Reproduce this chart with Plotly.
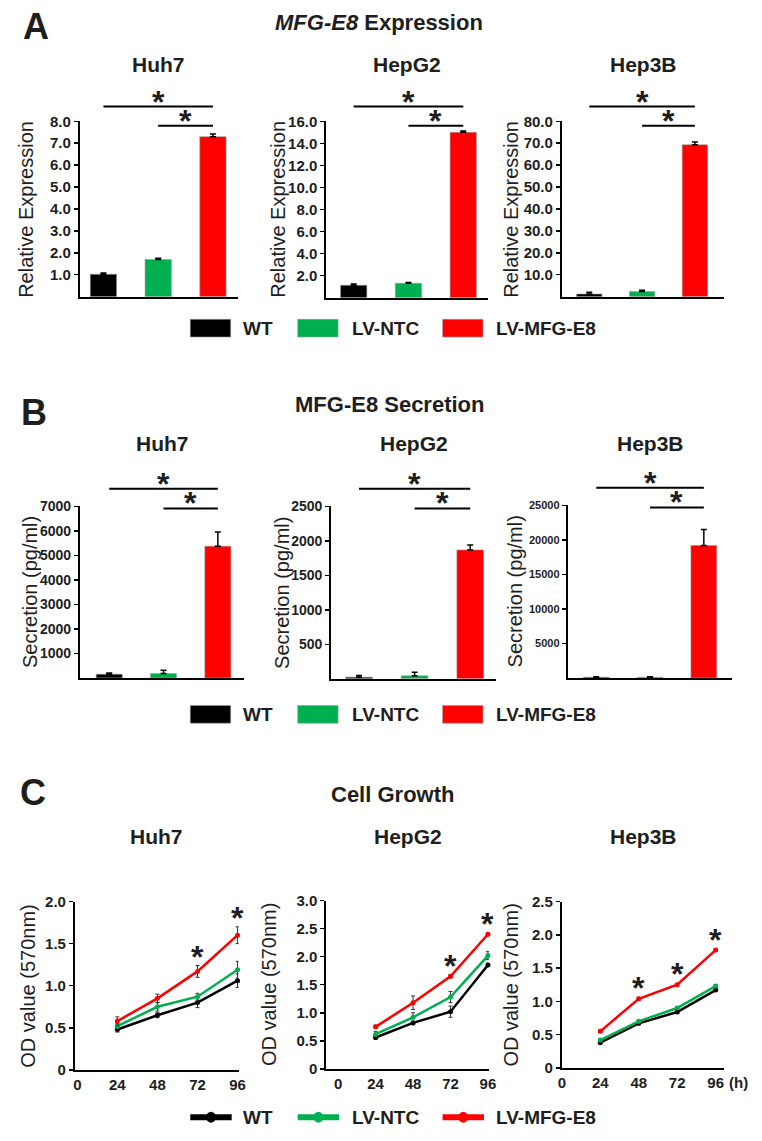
import plotly.graph_objects as go

W, H = 762, 1141
FONT = "Liberation Sans, Arial, Helvetica, sans-serif"
INK = "#1e1e1e"

# ---------------- data ----------------
groups = ["WT", "LV-NTC", "LV-MFG-E8"]
group_colors = ["#000000", "#00b050", "#ff0000"]
group_pos = [0, 1, 2]
cell_lines = ["Huh7", "HepG2", "Hep3B"]

# A: MFG-E8 relative expression
expr_huh7 = [1.02, 1.70, 7.30]
expr_huh7_err = [0.06, 0.05, 0.12]
expr_hepg2 = [1.12, 1.30, 15.0]
expr_hepg2_err = [0.12, 0.08, 0.12]
expr_hep3b = [1.2, 2.3, 69.3]
expr_hep3b_err = [0.8, 0.6, 1.2]
expr_ticks_huh7 = [1, 2, 3, 4, 5, 6, 7, 8]
expr_ticks_hepg2 = [2, 4, 6, 8, 10, 12, 14, 16]
expr_ticks_hep3b = [10, 20, 30, 40, 50, 60, 70, 80]

# B: MFG-E8 secretion (pg/ml)
sec_huh7 = [150, 180, 5380]
sec_huh7_err = [50, 130, 580]
sec_hepg2 = [25, 45, 1870]
sec_hepg2_err = [25, 50, 70]
sec_hep3b = [90, 90, 19200]
sec_hep3b_err = [60, 60, 2300]
sec_ticks_huh7 = [1000, 2000, 3000, 4000, 5000, 6000, 7000]
sec_ticks_hepg2 = [500, 1000, 1500, 2000, 2500]
sec_ticks_hep3b = [5000, 10000, 15000, 20000, 25000]

# C: cell growth, OD570
hours = [24, 48, 72, 96]
hour_ticks = [0, 24, 48, 72, 96]
od_huh7_wt = [0.48, 0.65, 0.80, 1.06]
od_huh7_wt_err = [0.03, 0.03, 0.06, 0.08]
od_huh7_ntc = [0.52, 0.75, 0.87, 1.19]
od_huh7_ntc_err = [0.03, 0.05, 0.04, 0.10]
od_huh7_mfg = [0.58, 0.85, 1.17, 1.60]
od_huh7_mfg_err = [0.05, 0.05, 0.07, 0.10]
od_hepg2_wt = [0.56, 0.82, 1.02, 1.85]
od_hepg2_wt_err = [0.03, 0.03, 0.10, 0.03]
od_hepg2_ntc = [0.62, 0.92, 1.28, 2.02]
od_hepg2_ntc_err = [0.05, 0.08, 0.10, 0.07]
od_hepg2_mfg = [0.75, 1.18, 1.65, 2.40]
od_hepg2_mfg_err = [0.03, 0.12, 0.03, 0.03]
od_hep3b_wt = [0.38, 0.67, 0.84, 1.17]
od_hep3b_wt_err = [0.02, 0.02, 0.02, 0.02]
od_hep3b_ntc = [0.42, 0.70, 0.90, 1.23]
od_hep3b_ntc_err = [0.02, 0.02, 0.02, 0.02]
od_hep3b_mfg = [0.55, 1.04, 1.25, 1.77]
od_hep3b_mfg_err = [0.02, 0.02, 0.02, 0.02]
od_ticks_huh7 = [0, 0.5, 1.0, 1.5, 2.0]
od_ticks_hepg2 = [0, 0.5, 1.0, 1.5, 2.0, 2.5, 3.0]
od_ticks_hep3b = [0, 0.5, 1.0, 1.5, 2.0, 2.5]
sig_hours_huh7 = [72, 96]
sig_hours_hepg2 = [72, 96]
sig_hours_hep3b = [48, 72, 96]

# ---------------- helpers ----------------
fig = go.Figure()
layout = dict(shapes=[], annotations=[])


def xdom(l, r):
    return [l / W, r / W]


def ydom(b, t):
    return [1 - b / H, 1 - t / H]


def axis_names(i):
    s = "" if i == 1 else str(i)
    return "x" + s, "y" + s, "xaxis" + s, "yaxis" + s


def fmt1(v):
    return "%.1f" % v


def y_title(xn, yn, text, dist, size):
    layout["annotations"].append(dict(
        text=text, xref=xn + " domain", yref=yn + " domain", x=0, y=0.5,
        xshift=-dist, xanchor="center", yanchor="middle", textangle=-90,
        showarrow=False, font=dict(family=FONT, size=size, color=INK)))


def star(xref, yref, x, y, yshift):
    layout["annotations"].append(dict(
        text="*", xref=xref, yref=yref, x=x, y=y, yanchor="middle",
        yshift=yshift, showarrow=False,
        font=dict(family=FONT, size=32, color=INK, weight="bold")))


def bar_panel(i, vals, errs, ticks, ticktext, title, geom, tfs, brk, tdist):
    l, r, b, t, x0, x1 = geom
    xn, yn, xk, yk = axis_names(i)
    fig.add_trace(go.Bar(
        x=group_pos, y=vals, width=0.48, xaxis=xn, yaxis=yn,
        marker=dict(color=group_colors, line=dict(color="#9a9a9a", width=0.6)),
        error_y=dict(type="data", array=errs, arrayminus=[0] * len(errs),
                     symmetric=False, color="#000000", thickness=1.5, width=3),
        showlegend=False, hoverinfo="skip"))
    layout[xk] = dict(domain=xdom(l, r), range=[x0, x1], anchor=yn,
                      showline=True, linewidth=2, linecolor="#000000",
                      ticks="", showticklabels=False, showgrid=False,
                      zeroline=False, fixedrange=True)
    layout[yk] = dict(domain=ydom(b, t), range=[0, ticks[-1]], anchor=xn,
                      showline=True, linewidth=2, linecolor="#000000",
                      tickvals=ticks, ticktext=ticktext, ticks="outside",
                      ticklen=4, tickwidth=1.5, tickcolor="#000000",
                      tickfont=dict(family=FONT, size=tfs, color=INK, weight="bold"),
                      showgrid=False, zeroline=False, fixedrange=True)
    y_title(xn, yn, title, tdist, 20)
    span = b - t
    lo_off, hi_off = brk
    for (ga, gb, off) in [(group_pos[0], group_pos[2], hi_off), (group_pos[1], group_pos[2], lo_off)]:
        yy = 1 + off / span
        layout["shapes"].append(dict(type="line", xref=xn, yref=yn + " domain",
                                     x0=ga, x1=gb, y0=yy, y1=yy,
                                     line=dict(color="#000000", width=2)))
        star(xn, yn + " domain", (ga + gb) / 2, yy, 5)


def line_panel(i, series, errs, ticks, title, geom, sig_hours, top_series, top_err, tdist):
    l, r, b, t, x0, x1 = geom
    xn, yn, xk, yk = axis_names(i)
    for s, e, c in zip(series, errs, group_colors):
        fig.add_trace(go.Scatter(
            x=hours, y=s, xaxis=xn, yaxis=yn, mode="lines+markers",
            line=dict(color=c, width=2.5), marker=dict(color=c, size=5),
            error_y=dict(type="data", array=e, color="#333333", thickness=1, width=2),
            showlegend=False, hoverinfo="skip", cliponaxis=False))
    layout[xk] = dict(domain=xdom(l, r), range=[x0, x1], anchor=yn,
                      showline=True, linewidth=2, linecolor="#000000",
                      tickvals=hour_ticks, ticktext=[str(h) for h in hour_ticks],
                      ticks="", tickfont=dict(family=FONT, size=15, color=INK, weight="bold"),
                      showgrid=False, zeroline=False, fixedrange=True)
    layout[yk] = dict(domain=ydom(b, t), range=[0, ticks[-1]], anchor=xn,
                      showline=True, linewidth=2, linecolor="#000000",
                      tickvals=ticks, ticktext=["0" if v == 0 else fmt1(v) for v in ticks],
                      ticks="outside", ticklen=4, tickwidth=1.5, tickcolor="#000000",
                      tickfont=dict(family=FONT, size=15, color=INK, weight="bold"),
                      showgrid=False, zeroline=False, fixedrange=True)
    y_title(xn, yn, title, tdist, 20)
    for hh in sig_hours:
        k = hours.index(hh)
        star(xn, yn, hh, top_series[k] + top_err[k], 9)


# ---------------- panel A ----------------
geomA = [(77, 237, 292, 114, -0.43, 2.45),
         (327, 491, 293, 114, -0.50, 2.45),
         (566, 731, 292, 114, -0.52, 2.56)]
A_vals = [expr_huh7, expr_hepg2, expr_hep3b]
A_errs = [expr_huh7_err, expr_hepg2_err, expr_hep3b_err]
A_ticks = [expr_ticks_huh7, expr_ticks_hepg2, expr_ticks_hep3b]
A_tdist = [54, 48, 51]
for k in range(3):
    bar_panel(k + 1, A_vals[k], A_errs[k], A_ticks[k], [fmt1(v) for v in A_ticks[k]],
              "Relative Expression", geomA[k], 15, (-4.5, 15), A_tdist[k])

# ---------------- panel B ----------------
geomB = [(77, 244, 679, 505, -0.54, 2.49),
         (332, 499, 680, 505, -0.50, 2.46),
         (572, 739, 679, 504, -0.53, 2.53)]
B_vals = [sec_huh7, sec_hepg2, sec_hep3b]
B_errs = [sec_huh7_err, sec_hepg2_err, sec_hep3b_err]
B_ticks = [sec_ticks_huh7, sec_ticks_hepg2, sec_ticks_hep3b]
B_tfs = [14, 14, 11]
B_tdist = [50, 50, 53]
for k in range(3):
    bar_panel(k + 4, B_vals[k], B_errs[k], B_ticks[k], [str(v) for v in B_ticks[k]],
              "Secretion (pg/ml)", geomB[k], B_tfs[k], (-2, 18), B_tdist[k])

# ---------------- panel C ----------------
geomC = [(72, 238, 1077, 906, -1.4, 96.6),
         (327, 492, 1076, 905, -7.6, 96.6),
         (566, 731, 1075, 906, 0.0, 101.5)]
C_series = [[od_huh7_wt, od_huh7_ntc, od_huh7_mfg],
            [od_hepg2_wt, od_hepg2_ntc, od_hepg2_mfg],
            [od_hep3b_wt, od_hep3b_ntc, od_hep3b_mfg]]
C_errs = [[od_huh7_wt_err, od_huh7_ntc_err, od_huh7_mfg_err],
          [od_hepg2_wt_err, od_hepg2_ntc_err, od_hepg2_mfg_err],
          [od_hep3b_wt_err, od_hep3b_ntc_err, od_hep3b_mfg_err]]
C_ticks = [od_ticks_huh7, od_ticks_hepg2, od_ticks_hep3b]
C_sig = [sig_hours_huh7, sig_hours_hepg2, sig_hours_hep3b]
C_tdist = [47, 58, 51]
for k in range(3):
    line_panel(k + 7, C_series[k], C_errs[k], C_ticks[k], "OD value (570nm)",
               geomC[k], C_sig[k], C_series[k][2], C_errs[k][2], C_tdist[k])

# "(h)" unit label after the last hour tick of the Hep3B growth panel
layout["annotations"].append(dict(text="(h)", xref="x9", yref="y9 domain", x=hour_ticks[-1],
                                  y=0, xshift=23, yshift=-15, yanchor="middle",
                                  showarrow=False,
                                  font=dict(family=FONT, size=15, color=INK, weight="bold")))


# ---------------- titles ----------------
def text_at(txt, px, py, size, anchor="center", xref="paper", xval=None):
    layout["annotations"].append(dict(
        text=txt, xref=xref, yref="paper",
        x=(px / W) if xval is None else xval, y=1 - py / H,
        xanchor=anchor, yanchor="middle", showarrow=False,
        font=dict(family=FONT, size=size, color=INK, weight="bold")))


text_at("A", 32, 18, 36)
text_at("B", 30, 410, 36)
text_at("C", 29, 795, 36)
text_at("<i>MFG-E8</i> Expression", 380, 14, 22)
text_at("MFG-E8 Secretion", 391, 401, 22)
text_at("Cell Growth", 394, 797, 22)
for k in range(3):
    text_at(cell_lines[k], 0, 56, 21, xref="x" + ("" if k == 0 else str(k + 1)) + " domain", xval=0.5)
    text_at(cell_lines[k], 0, 441, 21, xref="x" + str(k + 4) + " domain", xval=0.5)
    text_at(cell_lines[k], 0, 840, 21, xref="x" + str(k + 7) + " domain", xval=0.5)

# ---------------- legends (drawn swatches) ----------------
swatch_x = [189, 298, 445]
label_x = [240, 351, 497]
for row_y, kind in [(324, "box"), (716, "box"), (1125, "line")]:
    for k in range(3):
        sx = swatch_x[k]
        if kind == "box":
            layout["shapes"].append(dict(type="rect", xref="paper", yref="paper",
                                         x0=sx / W, x1=(sx + 41) / W,
                                         y0=1 - (row_y + 9) / H, y1=1 - (row_y - 9) / H,
                                         fillcolor=group_colors[k],
                                         line=dict(color="#9a9a9a", width=0.6)))
        else:
            layout["shapes"].append(dict(type="line", xref="paper", yref="paper",
                                         x0=sx / W, x1=(sx + 42) / W,
                                         y0=1 - row_y / H, y1=1 - row_y / H,
                                         line=dict(color=group_colors[k], width=6)))
            layout["shapes"].append(dict(type="circle", xref="paper", yref="paper",
                                         x0=(sx + 16) / W, x1=(sx + 26) / W,
                                         y0=1 - (row_y + 5.5) / H, y1=1 - (row_y - 5.5) / H,
                                         fillcolor=group_colors[k],
                                         line=dict(color=group_colors[k], width=0)))
        text_at(groups[k], label_x[k], row_y, 19, anchor="left")

fig.update_layout(
    width=W, height=H, margin=dict(l=0, r=0, t=0, b=0),
    paper_bgcolor="white", plot_bgcolor="white",
    font=dict(family=FONT, color=INK), showlegend=False,
    **layout)

# the page's default 8px body margin would shift the whole figure; remove it
fig.write_html("out.html", config={"displayModeBar": False, "staticPlot": True},
               post_script="document.body.style.margin='0px';")
